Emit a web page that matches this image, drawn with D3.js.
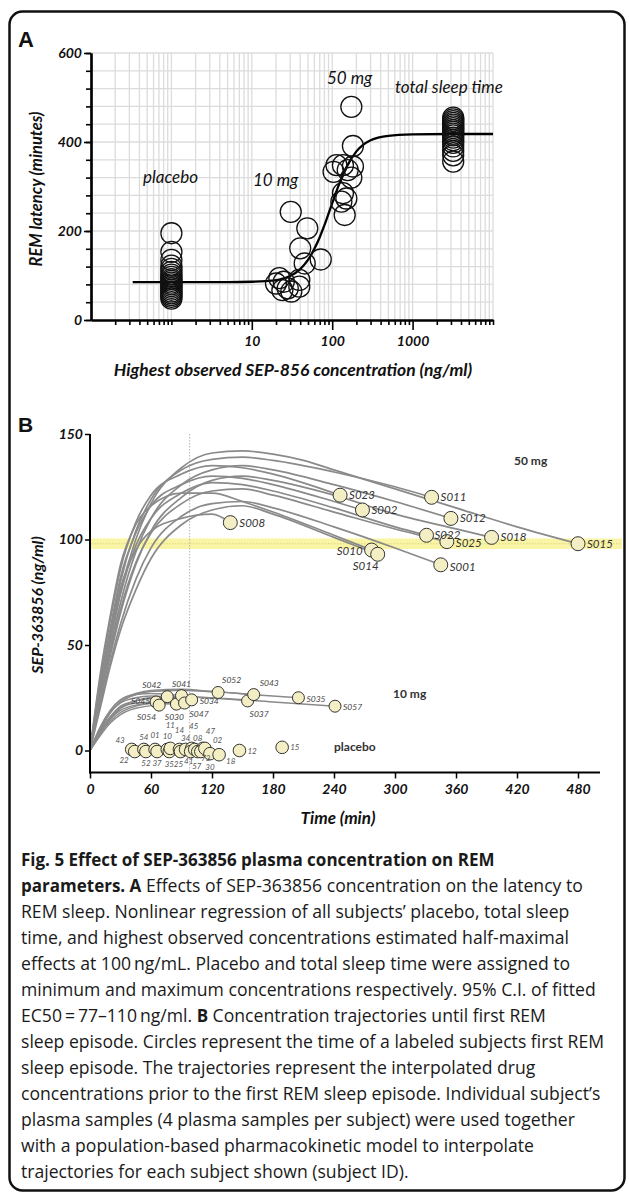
<!DOCTYPE html>
<html><head><meta charset="utf-8">
<script src="https://cdn.jsdelivr.net/npm/d3@7"></script>
<style>body{margin:0;background:#fff} svg{display:block}</style>
</head><body>
<svg id="c" width="629" height="1200"></svg>
<script>
// ---------------- DATA: panel A ----------------
const placeboConcA = 1;            // placebo assigned to minimum concentration
const placeboLatency = [195,153,135,122,115,108,102,97,92,88,84,80,76,72,68,64,60,56,52,48];
const tstConcA = 3200;             // total sleep time assigned to maximum concentration
const tstLatency = [455,451,447,443,439,435,431,427,423,419,415,410,404,398,390,380,370,356];
const tenMgConcA    = [22,25,28,39,31,24,39,20,30.5,49,40,45.5,72];
const tenMgLatency  = [94,86,71,75,64,67,90,82,243,206,161,127,136];
const fiftyMgConcA   = [173,181,113,136,104,181,173,136,150,130,143,156];
const fiftyMgLatency = [479,391,348,348,333,345,320,285,273,266,236,337];
const fitConc    = [0.33,5,10,15,22,30,40,50,60,70,80,95,120,150,200,300,500,1000,3000,10000];
const fitLatency = [85,85.2,86,87.5,91,99,114.5,135,160,186,213,251,302,343,379,404,414,417,418,418];
const yTicksA = [0,200,400,600];
const xTicksA = [10,100,1000];

// ---------------- DATA: panel B ----------------
const fiftyMgIds = ["S008","S023","S002","S011","S012","S022","S025","S001","S018","S015","S010","S014"];
const fiftyMgTraj = {
  S015:[[0,0],[10,28],[20,52],[30,75],[45,100],[60,117],[90,134],[120,141],[150,142],[180,140.5],[210,137.5],[240,133],[300,124],[360,115],[420,106],[480,98]],
  S011:[[0,0],[10,30],[20,56],[30,80],[45,104],[60,119],[90,133],[120,138],[150,139],[180,137.5],[240,132],[300,125],[336,120]],
  S023:[[0,0],[10,34],[20,62],[30,86],[45,108],[60,121],[90,131],[120,135],[150,134],[180,131],[246,121]],
  S012:[[0,0],[10,26],[20,49],[30,70],[45,94],[60,110],[90,126],[120,133],[150,135],[180,133],[240,126],[300,118],[355,110]],
  S002:[[0,0],[10,32],[20,58],[30,82],[45,103],[60,116],[90,126],[120,130],[150,129],[180,126],[240,118],[268,114]],
  S018:[[0,0],[10,24],[20,45],[30,65],[45,88],[60,104],[90,120],[120,128],[150,130],[180,128],[240,121],[300,112],[360,105],[395,101]],
  S022:[[0,0],[10,28],[20,52],[30,74],[45,97],[60,110],[90,122],[120,127],[150,126],[180,123],[240,115],[300,106],[331,102]],
  S025:[[0,0],[10,25],[20,47],[30,67],[45,89],[60,103],[90,117],[120,123],[150,124],[180,121],[240,113],[300,105],[351,99]],
  S001:[[0,0],[10,22],[20,42],[30,60],[45,81],[60,96],[90,111],[120,117],[150,118],[180,115],[240,106],[300,96],[345,88]],
  S010:[[0,0],[10,36],[20,64],[30,88],[45,107],[60,116],[90,122],[120,122],[150,118],[180,113],[240,102],[277,95]],
  S014:[[0,0],[10,20],[20,40],[30,57],[45,76],[60,91],[90,107],[120,114],[150,116],[180,112],[240,101],[283,93]],
  S008:[[0,0],[10,30],[20,55],[30,77],[45,95],[60,104],[90,110],[120,112],[138,108]]
};
const tenMgIds = ["S045","S054","S042","S030","S041","S047","S034","S052","S037","S043","S035","S057"];
const tenMgTraj = {
  S045:[[0,0],[10,9],[20,16],[30,20],[45,22.5],[65,23]],
  S054:[[0,0],[10,7],[20,13],[30,17],[45,20],[68,21.5]],
  S042:[[0,0],[10,10],[20,18],[30,22.5],[45,25],[60,25.8],[76,25.5]],
  S030:[[0,0],[10,8],[20,14],[30,18],[45,21],[60,22.3],[85,22]],
  S041:[[0,0],[10,11],[20,19],[30,24],[45,26.5],[60,27],[90,26]],
  S047:[[0,0],[10,8.5],[20,15],[30,19],[45,21.5],[60,22.5],[93,22.5]],
  S034:[[0,0],[10,9],[20,16],[30,21],[45,23.5],[60,24.5],[100,24]],
  S052:[[0,0],[10,10],[20,18],[30,23],[45,26.5],[60,28],[90,28.5],[126,27.5]],
  S037:[[0,0],[10,9],[20,16],[30,20.5],[45,23.5],[60,25],[90,25.5],[120,24.8],[155,23.5]],
  S043:[[0,0],[10,11],[20,19],[30,24],[45,27],[60,28.5],[90,29],[120,28],[161,26.5]],
  S035:[[0,0],[10,10],[20,18],[30,23],[45,26.5],[60,28],[90,28.5],[120,28],[160,26.5],[205,25]],
  S057:[[0,0],[10,8],[20,15],[30,20],[45,23.5],[60,25],[90,25.5],[120,25],[180,23],[241,21]]
};
const placeboIds   = ["43","22","54","52","01","37","10","35","11","14","25","34","45","41","08","57","47","73","02","30","18","12","15"];
const placeboTime  = [41,44,53,55,64,66,76,78,79,88,89,94,100,99,103,106,111,109,113,118,127,147,189];
const placeboConcB = [0.5,-0.5,0.5,-0.5,0.5,-0.5,0.5,-0.5,1,0.5,-0.5,0.5,1,-0.5,0.5,-0.5,1,-0.5,1,-1.5,-2,0,1.5];
const xTicksB = [0,60,120,180,240,300,360,420,480];
const yTicksB = [0,50,100,150];
const targetBand = [95.5,100.5];
const referenceTime = 98;

// ---------------- label placement (styling) ----------------
const lab50 = {S008:[9,4,"start"],S023:[9,4,"start"],S002:[9,4,"start"],S011:[9,4,"start"],S012:[9,4,"start"],
  S022:[8,4,"start"],S025:[9,5,"start"],S001:[9,6,"start"],S018:[9,4,"start"],S015:[9,4,"start"],
  S010:[-9,5,"end"],S014:[-12,16,"middle"]};
const lab10 = {S045:[-6,2,"end"],S054:[-3,15,"end"],S042:[-6,-9,"end"],S030:[-2,16,"middle"],S041:[0,-9,"middle"],
  S047:[5,14,"start"],S034:[8,4,"start"],S052:[4,-9,"start"],S037:[2,16,"start"],S043:[6,-9,"start"],S035:[8,4,"start"],S057:[8,4,"start"]};
const labP = {"43":[-7,-6,"end"],"22":[-6,11,"end"],"54":[0,-9,"middle"],"52":[0,14,"middle"],"01":[0,-11,"middle"],
  "37":[0,14,"middle"],"10":[0,-10,"middle"],"35":[0,15,"middle"],"11":[0,-20,"middle"],"14":[0,-16,"middle"],
  "25":[-2,15,"middle"],"34":[0,-8,"middle"],"45":[2,-19,"middle"],"41":[-2,12,"middle"],"08":[3,-8,"middle"],
  "57":[-1,17,"middle"],"47":[3,-14,"start"],"73":[5,9,"middle"],"02":[8,-5,"start"],"30":[0,16,"middle"],
  "18":[7,9,"start"],"12":[8,3,"start"],"15":[8,3,"start"]};

// ---------------- drawing ----------------
const svg = d3.select("#c");
const F = "Lato, 'Open Sans', sans-serif";

svg.append("rect").attr("x",9.5).attr("y",11.5).attr("width",615).attr("height",1179)
  .attr("rx",13).attr("fill","none").attr("stroke","#111").attr("stroke-width",2.5);

// ===== Panel A =====
const xA = d3.scaleLog().domain([0.1,10000]).range([91,493]);
const yA = d3.scaleLinear().domain([0,600]).range([320,53]);
const gA = svg.append("g");
const gridX = [];
[0.1,1,10,100,1000].forEach(d=>{ for(let m=1;m<=9;m++){ const v=+(d*m).toPrecision(3); if(v>0.1) gridX.push(v);} });
gridX.push(10000);
gA.selectAll(".vg").data(gridX).enter().append("line")
  .attr("x1",d=>xA(d)).attr("x2",d=>xA(d)).attr("y1",yA(600)).attr("y2",yA(0))
  .attr("stroke","#dcdcdc").attr("stroke-width",1.3);
gA.selectAll(".hg").data(d3.range(40,601,40)).enter().append("line")
  .attr("x1",xA(0.1)).attr("x2",xA(10000)).attr("y1",d=>yA(d)).attr("y2",d=>yA(d))
  .attr("stroke","#dcdcdc").attr("stroke-width",1.3);

gA.append("path").datum(fitConc.map((c,i)=>[c,fitLatency[i]]))
  .attr("d",d3.line().x(d=>xA(d[0])).y(d=>yA(d[1])).curve(d3.curveMonotoneX))
  .attr("fill","none").attr("stroke","#000").attr("stroke-width",2.3);

const ptsA = [];
placeboLatency.forEach(v=>ptsA.push([placeboConcA,v]));
tenMgConcA.forEach((c,i)=>ptsA.push([c,tenMgLatency[i]]));
fiftyMgConcA.forEach((c,i)=>ptsA.push([c,fiftyMgLatency[i]]));
tstLatency.forEach(v=>ptsA.push([tstConcA,v]));
gA.selectAll(".pa").data(ptsA).enter().append("circle")
  .attr("cx",d=>xA(d[0])).attr("cy",d=>yA(d[1])).attr("r",10.5)
  .attr("fill","none").attr("stroke","#111").attr("stroke-width",1.3);

const minorX = gridX.filter(v=>!xTicksA.includes(v));
const axXminor = gA.append("g").attr("transform","translate(0,320)")
  .call(d3.axisBottom(xA).tickValues(minorX).tickSize(5).tickSizeOuter(0).tickFormat(""));
const axXmajor = gA.append("g").attr("transform","translate(0,320)")
  .call(d3.axisBottom(xA).tickValues(xTicksA).tickSize(10).tickSizeOuter(0).tickPadding(6).tickFormat(d3.format("d")));
const axYminor = gA.append("g").attr("transform","translate(91,0)")
  .call(d3.axisLeft(yA).tickValues(d3.range(0,601,40)).tickSize(5).tickSizeOuter(0).tickFormat(""));
const axYmajor = gA.append("g").attr("transform","translate(91,0)")
  .call(d3.axisLeft(yA).tickValues(yTicksA).tickSize(7).tickSizeOuter(0).tickPadding(2));
[axXminor,axXmajor,axYminor,axYmajor].forEach(a=>{
  a.select(".domain").attr("stroke","#000").attr("stroke-width",2.2);
  a.selectAll(".tick line").attr("stroke","#000").attr("stroke-width",1.6);
  a.selectAll("text").attr("font-family",F).attr("font-size",14).attr("font-weight","bold").attr("font-style","italic").attr("fill","#111");
});

gA.append("text").attr("x",18).attr("y",47).text("A").attr("font-family","Liberation Sans, Arial, sans-serif")
  .attr("font-weight","bold").attr("font-size",22).attr("fill","#111");
gA.append("text").attr("transform","translate(42,189) rotate(-90)").attr("text-anchor","middle")
  .text("REM latency (minutes)").attr("font-family",F).attr("font-size",16.5).attr("font-weight","bold").attr("font-style","italic").attr("fill","#111");
gA.append("text").attr("x",293).attr("y",376).attr("text-anchor","middle")
  .text("Highest observed SEP-856 concentration (ng/ml)").attr("font-family",F).attr("font-size",17.5).attr("font-weight","bold").attr("font-style","italic").attr("fill","#111");
const annA = [["placebo",143,183],["10 mg",253,186],["50 mg",327,84],["total sleep time",395,93]];
gA.selectAll(".ann").data(annA).enter().append("text")
  .attr("x",d=>d[1]).attr("y",d=>d[2]).text(d=>d[0])
  .attr("font-family",F).attr("font-size",17).attr("font-style","italic").attr("fill","#111");

// ===== Panel B =====
const xB = d3.scaleLinear().domain([0,480]).range([90,578]);
const yB = d3.scaleLinear().domain([0,150]).range([750.5,434]);
const yAxisB = yB(-10.4);
const gB = svg.append("g");

gB.append("rect").attr("x",91).attr("width",531).attr("y",yB(targetBand[1])).attr("height",yB(targetBand[0])-yB(targetBand[1]))
  .attr("fill","#f8f39c").attr("opacity",0.9);
gB.append("line").attr("x1",91).attr("x2",622).attr("y1",yB(d3.mean(targetBand))).attr("y2",yB(d3.mean(targetBand)))
  .attr("stroke","#d9d27a").attr("stroke-width",0.8).attr("stroke-dasharray","1.5,1.5");
gB.append("line").attr("x1",xB(referenceTime)).attr("x2",xB(referenceTime)).attr("y1",yB(150)).attr("y2",yAxisB)
  .attr("stroke","#b5b5b5").attr("stroke-width",1).attr("stroke-dasharray","1.5,1.5");

const lineB = d3.line().x(d=>xB(d[0])).y(d=>yB(d[1])).curve(d3.curveMonotoneX);
gB.selectAll(".t50").data(fiftyMgIds).enter().append("path")
  .attr("d",id=>lineB(fiftyMgTraj[id])).attr("fill","none").attr("stroke","#8a8a8a").attr("stroke-width",1.7);
gB.selectAll(".t10").data(tenMgIds).enter().append("path")
  .attr("d",id=>lineB(tenMgTraj[id])).attr("fill","none").attr("stroke","#8a8a8a").attr("stroke-width",1.4);

const endOf = (traj,id)=>traj[id][traj[id].length-1];
const cFill = "#f3eec4", cStroke = "#333";
gB.selectAll(".cp").data(placeboIds).enter().append("circle")
  .attr("cx",(d,i)=>xB(placeboTime[i])).attr("cy",(d,i)=>yB(placeboConcB[i])).attr("r",6.3)
  .attr("fill",cFill).attr("stroke",cStroke).attr("stroke-width",1);
gB.selectAll(".c10").data(tenMgIds).enter().append("circle")
  .attr("cx",id=>xB(endOf(tenMgTraj,id)[0])).attr("cy",id=>yB(endOf(tenMgTraj,id)[1])).attr("r",6)
  .attr("fill",cFill).attr("stroke",cStroke).attr("stroke-width",1);
gB.selectAll(".c50").data(fiftyMgIds).enter().append("circle")
  .attr("cx",id=>xB(endOf(fiftyMgTraj,id)[0])).attr("cy",id=>yB(endOf(fiftyMgTraj,id)[1])).attr("r",7)
  .attr("fill",cFill).attr("stroke",cStroke).attr("stroke-width",1);

gB.selectAll(".l50").data(fiftyMgIds).enter().append("text")
  .attr("x",id=>xB(endOf(fiftyMgTraj,id)[0])+lab50[id][0]).attr("y",id=>yB(endOf(fiftyMgTraj,id)[1])+lab50[id][1])
  .attr("text-anchor",id=>lab50[id][2]).text(id=>id)
  .attr("font-family",F).attr("font-size",11.5).attr("font-style","italic").attr("fill","#333");
gB.selectAll(".l10").data(tenMgIds).enter().append("text")
  .attr("x",id=>xB(endOf(tenMgTraj,id)[0])+lab10[id][0]).attr("y",id=>yB(endOf(tenMgTraj,id)[1])+lab10[id][1])
  .attr("text-anchor",id=>lab10[id][2]).text(id=>id)
  .attr("font-family",F).attr("font-size",8.5).attr("font-style","italic").attr("fill","#444");
gB.selectAll(".lp").data(placeboIds).enter().append("text")
  .attr("x",(d,i)=>xB(placeboTime[i])+labP[d][0]).attr("y",(d,i)=>yB(placeboConcB[i])+labP[d][1])
  .attr("text-anchor",d=>labP[d][2]).text(d=>d)
  .attr("font-family",F).attr("font-size",8).attr("font-style","italic").attr("fill","#555");

const grp = [["50 mg",514,465],["10 mg",393,yB(27)+4],["placebo",334,yB(0)]];
gB.selectAll(".grp").data(grp).enter().append("text")
  .attr("x",d=>d[1]).attr("y",d=>d[2]).text(d=>d[0])
  .attr("font-family",F).attr("font-size",12).attr("font-weight","bold").attr("fill","#333");

const axBx = gB.append("g").attr("transform",`translate(0,${yAxisB})`)
  .call(d3.axisBottom(xB).tickValues(xTicksB).tickSize(6).tickSizeOuter(0).tickPadding(6));
axBx.select(".domain").remove();
gB.append("line").attr("x1",89).attr("x2",600).attr("y1",yAxisB).attr("y2",yAxisB).attr("stroke","#000").attr("stroke-width",2);
const axBy = gB.append("g").attr("transform","translate(90,0)")
  .call(d3.axisLeft(yB).tickValues(yTicksB).tickSize(5).tickSizeOuter(0).tickPadding(2));
axBy.select(".domain").remove();
gB.append("line").attr("x1",90).attr("x2",90).attr("y1",yB(150)).attr("y2",yAxisB+1).attr("stroke","#000").attr("stroke-width",2);
[axBx,axBy].forEach(a=>{
  a.selectAll(".tick line").attr("stroke","#000").attr("stroke-width",1.5);
  a.selectAll("text").attr("font-family",F).attr("font-size",14).attr("font-weight","bold").attr("font-style","italic").attr("fill","#111");
});
gB.append("text").attr("x",18).attr("y",432).text("B").attr("font-family","Liberation Sans, Arial, sans-serif")
  .attr("font-weight","bold").attr("font-size",21).attr("fill","#111");
gB.append("text").attr("transform",`translate(43,605) rotate(-90)`).attr("text-anchor","middle")
  .text("SEP-363856 (ng/ml)").attr("font-family",F).attr("font-size",16).attr("font-weight","bold").attr("font-style","italic").attr("fill","#111");
gB.append("text").attr("x",338).attr("y",824).attr("text-anchor","middle")
  .text("Time (min)").attr("font-family",F).attr("font-size",17).attr("font-weight","bold").attr("font-style","italic").attr("fill","#111");

// ===== Caption =====
const captionLines = [
  [["Fig. 5 Effect of SEP-363856 plasma concentration on REM",true]],
  [["parameters. A",true],[" Effects of SEP-363856 concentration on the latency to",false]],
  [["REM sleep. Nonlinear regression of all subjects’ placebo, total sleep",false]],
  [["time, and highest observed concentrations estimated half-maximal",false]],
  [["effects at 100\u2009ng/mL. Placebo and total sleep time were assigned to",false]],
  [["minimum and maximum concentrations respectively. 95% C.I. of fitted",false]],
  [["EC50\u2009=\u200977–110\u2009ng/ml. ",false],["B",true],[" Concentration trajectories until first REM",false]],
  [["sleep episode. Circles represent the time of a labeled subjects first REM",false]],
  [["sleep episode. The trajectories represent the interpolated drug",false]],
  [["concentrations prior to the first REM sleep episode. Individual subject’s",false]],
  [["plasma samples (4 plasma samples per subject) were used together",false]],
  [["with a population-based pharmacokinetic model to interpolate",false]],
  [["trajectories for each subject shown (subject ID).",false]]
];
const cap = svg.append("g");
captionLines.forEach((segs,i)=>{
  const t = cap.append("text").attr("x",21).attr("y",866+i*26)
    .attr("font-family","'Open Sans', sans-serif").attr("fill","#1a1a1a");
  segs.forEach(s=>t.append("tspan").text(s[0]).attr("font-weight",s[1]?"bold":"normal").attr("font-size",s[1]?17:17.6));
});
</script></body></html>
